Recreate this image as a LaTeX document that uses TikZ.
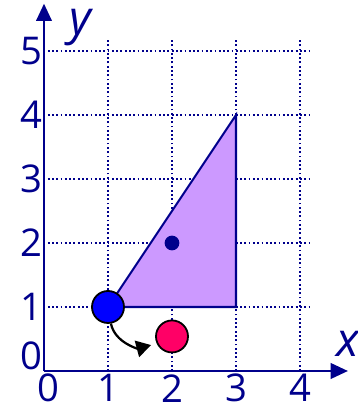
\documentclass[tikz,border=0pt]{standalone}
\usepackage{fontspec}
\setmainfont{Open Sans}
\usetikzlibrary{arrows.meta}
\definecolor{navy}{RGB}{0,0,140}
\definecolor{lilac}{RGB}{204,153,255}
\definecolor{rosy}{RGB}{255,0,102}
\begin{document}
\begin{tikzpicture}[
  every node/.style={font=\fontsize{17}{20}\selectfont,text=navy,inner sep=0pt},
  grd/.style={navy,line width=0.8pt,dash pattern=on 0.8pt off 1.1pt},
  ax/.style={navy,line width=1.2pt,-{Triangle[length=2.7mm,width=2.4mm]}},
  lbl/.style={font=\fontsize{21}{24}\selectfont\itshape},
  ball/.style={circle,draw=black,line width=0.8pt,minimum size=5mm}
]
\useasboundingbox (-0.6875,-0.547) rectangle (4.906,5.797);
\foreach \i in {1,...,5}
  \draw[grd] (0.06,\i)--(4.2,\i);
\foreach \i in {1,...,4}
  \draw[grd] (\i,0)--(\i,5.18);
\coordinate (o) at (0,0);
\coordinate (xe) at (4.75,0);
\coordinate (ye) at (0,5.74);
\draw[ax] (o)--(xe);
\draw[ax] (o)--(ye);
\node[lbl] (xl) at (4.75,0.43) {x};
\node[lbl] (yl) at (0.57,5.36) {y};
\foreach \i in {1,...,4}
  \node (x\i) at (\i,-0.27) {\i};
\node (x0) at (0.07,-0.27) {0};
\foreach \i in {1,...,5}
  \node (y\i) at (-0.2,\i) {\i};
\node (y0) at (-0.2,0.23) {0};
\fill[lilac,draw=navy,line width=0.9pt] (1,1)--(3,1)--(3,4)--cycle;
\node[circle,fill=navy,minimum size=2.3mm] (c) at (2,2) {};
\node[ball,fill=blue] (p) at (1,1) {};
\node[ball,fill=rosy] (q) at (2,0.54) {};
\draw[black,line width=1pt,shorten >=0.9mm,-{Triangle[length=2.3mm,width=2.6mm]}]
  (p.280) to[out=-78,in=195] (q.205);
\end{tikzpicture}
\end{document}
